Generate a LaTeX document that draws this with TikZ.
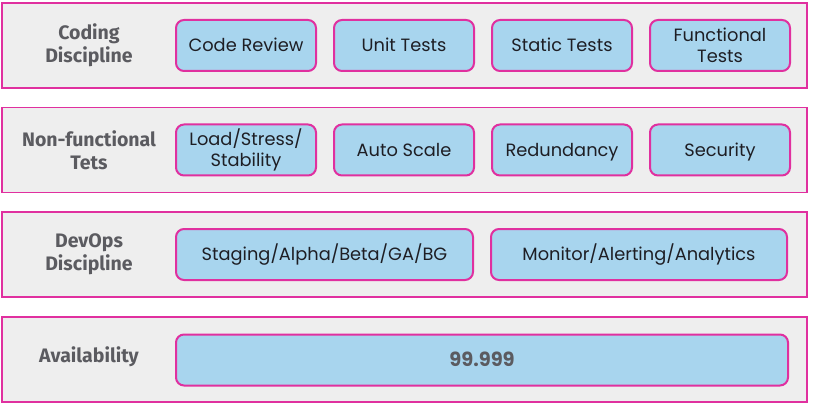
\documentclass[tikz,border=0pt]{standalone}
\usepackage{fontspec}
\setmainfont{Poppins}
\newfontfamily\lblfont{Fira Sans}
\usetikzlibrary{positioning}

\definecolor{rim}{HTML}{E0309F}
\definecolor{bandbg}{HTML}{EEEEEE}
\definecolor{boxbg}{HTML}{A8D5EE}
\definecolor{lblgray}{HTML}{5B5B60}
\definecolor{txt}{HTML}{1E1E24}

\begin{document}
\begin{tikzpicture}[x=1pt,y=-1pt,
    band/.style={draw=rim,fill=bandbg,line width=1.5pt,minimum width=805pt,minimum height=85pt,inner sep=0pt},
    item/.style={draw=rim,fill=boxbg,line width=2pt,rounded corners=8pt,minimum height=51pt,
        minimum width=140pt,inner sep=0pt,outer sep=0pt,align=center,text=txt,
        font=\fontsize{17.8}{21}\selectfont},
    oneline/.style={text height=12.5pt,text depth=0pt},
    lbl/.style={align=center,text=lblgray,font=\lblfont\bfseries\fontsize{19.5}{23}\selectfont},
    node distance=18pt]
\useasboundingbox (0,0) rectangle (813,406);

\node (cd) [band] at (404.5,45.5) {};
\node (nf) [band] at (404.5,150) {};
\node (dv) [band] at (404.5,254.5) {};
\node (av) [band] at (404.5,359.5) {};

\node (cdl) [lbl] at (89,45.5) {Coding\\Discipline};
\node (nfl) [lbl] at (89,150) {Non-functional\\Tets};
\node (dvl) [lbl] at (89,254.5) {DevOps\\Discipline};
\node (avl) [lbl,oneline] at (89,356) {Availability};

\node (cr) [item,oneline,anchor=west] at (176,45.5) {Code Review};
\node (ut) [item,oneline,right=of cr] {Unit Tests};
\node (st) [item,oneline,right=of ut] {Static Tests};
\node (ft) [item,right=of st] {Functional\\Tests};

\node (ls) [item,anchor=west] at (176,150) {Load/Stress/\\Stability};
\node (as) [item,oneline,right=of ls] {Auto Scale};
\node (rd) [item,oneline,right=of as] {Redundancy};
\node (sc) [item,oneline,right=of rd] {Security};

\node (sg) [item,oneline,anchor=west,minimum width=297pt] at (176,254.5) {Staging/Alpha/Beta/GA/BG};
\node (mn) [item,oneline,right=of sg,minimum width=296pt] {Monitor/Alerting/Analytics};

\node (nn) [item,oneline,anchor=west,minimum width=612pt,text=lblgray,
    font=\bfseries\fontsize{19.5}{21}\selectfont] at (176,360) {99.999};
\end{tikzpicture}
\end{document}
